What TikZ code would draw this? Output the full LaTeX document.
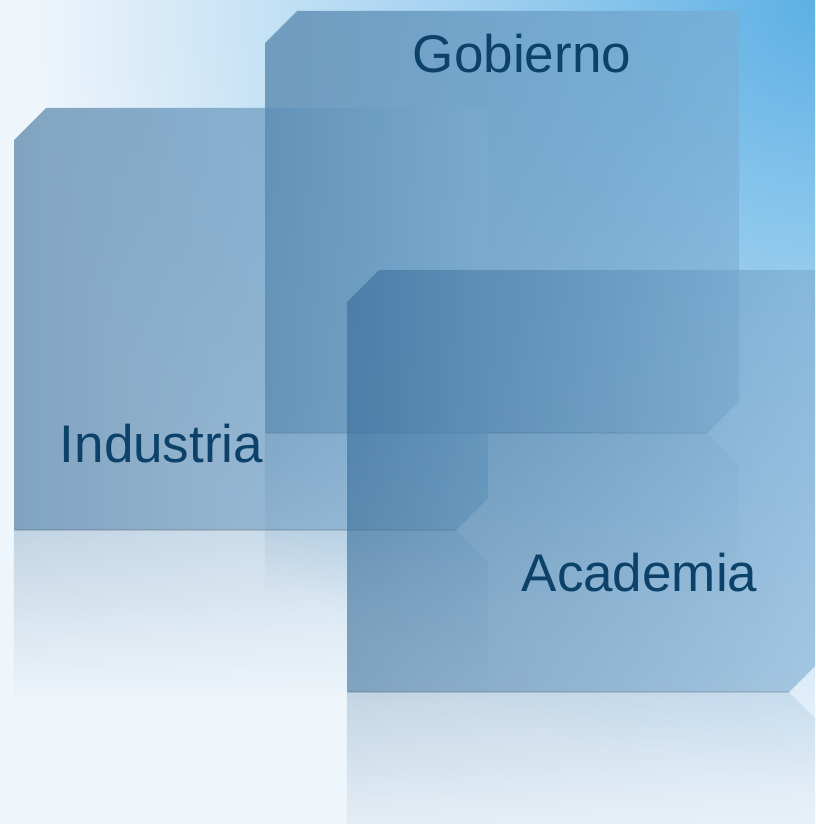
\documentclass[tikz,border=0pt]{standalone}
\usepackage{fontspec}
\setmainfont{Liberation Sans}
\usetikzlibrary{fadings}
\definecolor{bgwhite}{RGB}{238,245,251}
\definecolor{bgblue}{RGB}{92,176,228}
\definecolor{bgmid}{RGB}{150,203,238}
\definecolor{boxL}{RGB}{50,105,150}
\definecolor{boxR}{RGB}{125,172,210}
\definecolor{txtc}{RGB}{12,66,106}
\pgfdeclareradialshading{bgrad}{\pgfpoint{0bp}{0bp}}{color(0bp)=(bgblue); color(280bp)=(bgmid); color(780bp)=(bgwhite); color(1200bp)=(bgwhite)}
\tikzfading[name=reflfade, top color=transparent!60, bottom color=transparent!100]
\tikzset{
  panel/.style={left color=boxL, right color=boxR, fill opacity=0.58},
  refl/.style={left color=boxL, right color=boxR, fill opacity=0.58, path fading=reflfade},
  edgeshadow/.style={draw=black, draw opacity=0.10, line width=2pt},
  label/.style={text=txtc, font=\fontsize{53}{60}\selectfont, anchor=base, inner sep=0pt}
}
\begin{document}
\begin{tikzpicture}[x=1pt,y=-1pt]
\useasboundingbox (0,0) rectangle (815,824);
\begin{scope}
\clip (0,0) rectangle (815,824);
% background
\fill[bgwhite] (0,0) rectangle (815,824);
\node[inner sep=0pt, outer sep=0pt] (bgshade) at (815,0) {\pgfuseshading{bgrad}};
% reflections (W=474, H=422, bevel=32, length 170)
\path[refl] (265,433) -- (707,433) -- (739,465) -- (739,603) -- (265,603) -- cycle;
\path[refl] (14,530) -- (456,530) -- (488,562) -- (488,700) -- (14,700) -- cycle;
\path[refl] (347,692) -- (789,692) -- (821,724) -- (821,862) -- (347,862) -- cycle;
% panels
\path[panel] (265,43) -- (297,11) -- (739,11) -- (739,401) -- (707,433) -- (265,433) -- cycle;
\draw[edgeshadow] (266,433) -- (707,433);
\path[panel] (14,140) -- (46,108) -- (488,108) -- (488,498) -- (456,530) -- (14,530) -- cycle;
\draw[edgeshadow] (15,530) -- (456,530);
\path[panel] (347,302) -- (379,270) -- (821,270) -- (821,660) -- (789,692) -- (347,692) -- cycle;
\draw[edgeshadow] (348,692) -- (789,692);
\end{scope}
% labels
\node[label] (gob) at (522,73) {Gobierno};
\node[label] (ind) at (161.5,462) {Industria};
\node[label] (aca) at (639.5,591) {Academia};
\end{tikzpicture}
\end{document}
